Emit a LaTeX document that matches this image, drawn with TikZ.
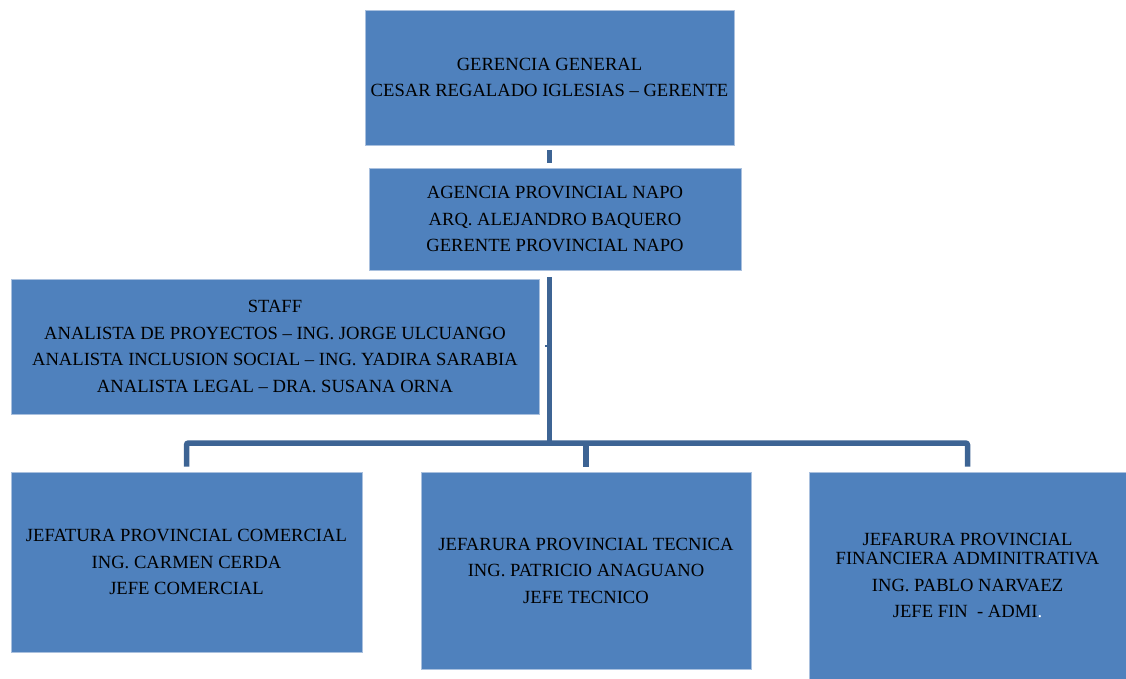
\documentclass[tikz,border=0pt]{standalone}
\usepackage{fontspec}
\setmainfont{Liberation Serif}
\usepackage{tikz}
\usetikzlibrary{positioning}
\definecolor{boxblue}{HTML}{4F81BD}
\definecolor{boxedge}{HTML}{A9C0DE}
\definecolor{linkblue}{HTML}{3D6494}

\begin{document}
\begin{tikzpicture}[
    x=1pt, y=-1pt,
    every node/.style={font=\fontsize{18.6}{26.5}\selectfont},
    unit/.style={rectangle, draw=boxedge, line width=0.8pt, fill=boxblue, inner sep=0pt, align=center},
    link/.style={line width=5.5pt, draw=linkblue}
]
\useasboundingbox (0,0) rectangle (1126,679);

% Management
\node[unit, minimum width=369pt, minimum height=135pt] (gg) at (549.5,77.5) {GERENCIA GENERAL\\CESAR REGALADO IGLESIAS -- GERENTE};
\node[unit, minimum width=372pt, minimum height=102pt] (ap) at (555,219) {AGENCIA PROVINCIAL NAPO\\ARQ. ALEJANDRO BAQUERO\\GERENTE PROVINCIAL NAPO};

% Staff
\node[unit, minimum width=528pt, minimum height=135pt] (st) at (275,346.5) {STAFF\\ANALISTA DE PROYECTOS -- ING. JORGE ULCUANGO\\ANALISTA INCLUSION SOCIAL -- ING. YADIRA SARABIA\\ANALISTA LEGAL -- DRA. SUSANA ORNA};

% Jefaturas
\node[unit, minimum width=351pt, minimum height=180pt] (jc) at (186.5,562) {JEFATURA PROVINCIAL COMERCIAL\\ING. CARMEN CERDA\\JEFE COMERCIAL};
\node[unit, minimum width=330pt, minimum height=197pt] (jt) at (586,570.5) {JEFARURA PROVINCIAL TECNICA\\ING. PATRICIO ANAGUANO\\JEFE TECNICO};
\node[unit, minimum width=317pt, minimum height=207pt] (jf) at (967.5,575.5) {JEFARURA PROVINCIAL\\[-7pt]FINANCIERA ADMINITRATIVA\\ING. PABLO NARVAEZ\\JEFE FIN \ - ADMI{\color{white}.}};

% Connectors
\coordinate (bus) at (549.5,443);
\coordinate (stub) at (545,346);
\draw[link, shorten <=5pt, shorten >=5pt] (gg.south) -- (gg.south |- ap.north);
\draw[link, shorten <=7pt] (gg.south |- ap.south) -- (bus);
\draw[link, line width=2pt] (stub -| bus) -- (stub);
\draw[link, rounded corners=2pt, shorten <=5pt, shorten >=5pt] (jc.north) -- (jc.north |- bus) -- (jf.north |- bus) -- (jf.north);
\draw[link, shorten >=5pt] (jt.north |- bus) -- (jt.north);
\end{tikzpicture}
\end{document}
